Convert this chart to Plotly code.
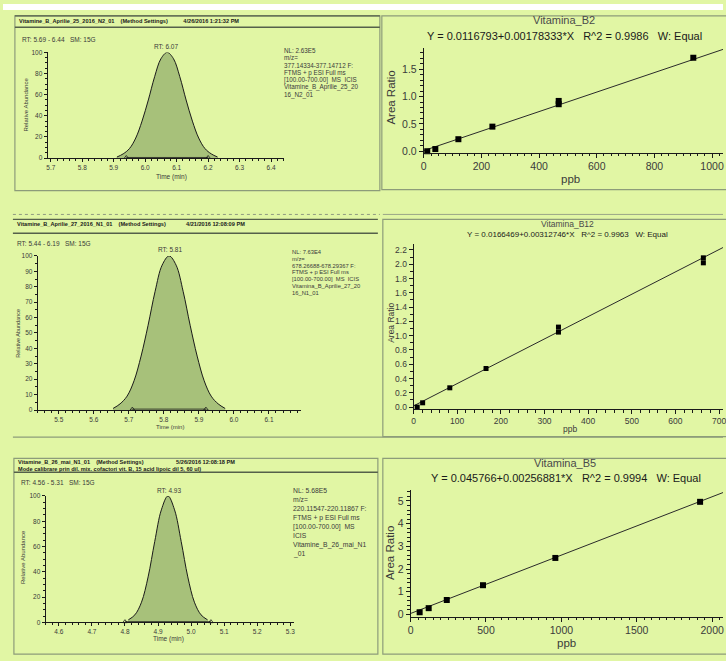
import plotly.graph_objects as go

W, H = 726, 661
FONT = "Liberation Sans, Arial, sans-serif"
BG = "#e1f6a4"
PEAK_FILL = "#a7c17a"
EDGE = "#8d9c7a"
INK = "#1a1a1a"
GREY = "#3a3a3a"

# ---------------- chromatogram data (time, min / relative abundance, %) ----------------
b2_time = [5.91, 5.93, 5.95, 5.97, 5.99, 6.01, 6.03, 6.05, 6.07, 6.09, 6.11, 6.13, 6.15, 6.17, 6.19, 6.21, 6.23]
b2_abund = [1, 4, 9, 19, 35, 55, 77, 94, 100, 94, 77, 55, 35, 19, 9, 4, 1]
b2_integ = [5.94, 6.20]

b12_time = [5.655, 5.675, 5.695, 5.715, 5.735, 5.755, 5.775, 5.795, 5.815, 5.835, 5.855, 5.875, 5.895, 5.915,
            5.935, 5.955, 5.975]
b12_abund = [1, 4, 9, 19, 35, 55, 77, 94, 100, 94, 77, 55, 35, 19, 9, 4, 1]
b12_integ = [5.71, 5.92]

b5_time = [4.81, 4.83, 4.85, 4.87, 4.89, 4.91, 4.93, 4.95, 4.97, 4.99, 5.01, 5.03, 5.05]
b5_abund = [2, 6, 16, 36, 64, 89, 100, 89, 64, 36, 16, 6, 2]
b5_integ = [4.80, 5.06]

# ---------------- calibration data (ppb / area ratio) ----------------
cal_b2_ppb = [12, 40, 120, 238, 468, 468, 935]
cal_b2_ratio = [0.0, 0.04, 0.22, 0.45, 0.86, 0.92, 1.71]
fit_b2_ppb = [0, 1038]
fit_b2_ratio = [0.0117, 1.863]

cal_b12_ppb = [8.3, 20.75, 83, 166, 332, 332, 664, 664]
cal_b12_ratio = [0.0, 0.06, 0.27, 0.54, 1.05, 1.12, 2.02, 2.09]
fit_b12_ppb = [0, 709]
fit_b12_ratio = [0.0166, 2.234]

cal_b5_ppb = [60, 120, 240, 480, 960, 1920]
cal_b5_ratio = [0.10, 0.28, 0.64, 1.29, 2.49, 4.96]
fit_b5_ppb = [0, 2072]
fit_b5_ratio = [0.0458, 5.368]

# ---------------- texts ----------------
headers = [
    "Vitamine_B_Aprilie_25_2016_N2_01    (Method Settings)          4/26/2016 1:21:32 PM",
    "Vitamine_B_Aprilie_27_2016_N1_01    (Method Settings)             4/21/2016 12:08:09 PM",
    "Vitamine_B_26_mai_N1_01    (Method Settings)                     5/26/2016 12:08:18 PM",
]
header3b = "Mode calibrare prin dil. mix. cofactori vit. B, 15 acid lipoic dil 5, 60 ul)"
rt_ranges = ["RT: 5.69 - 6.44   SM: 15G", "RT: 5.44 - 6.19   SM: 15G", "RT: 4.56 - 5.31   SM: 15G"]
rt_peaks = ["RT: 6.07", "RT: 5.81", "RT: 4.93"]
nl_blocks = [
    ["NL: 2.63E5", "m/z=", "377.14334-377.14712 F:", "FTMS + p ESI Full ms", "[100.00-700.00]  MS  ICIS",
     "Vitamine_B_Aprilie_25_20", "16_N2_01"],
    ["NL: 7.63E4", "m/z=", "678.26688-678.29367 F:", "FTMS + p ESI Full ms", "[100.00-700.00]  MS  ICIS",
     "Vitamina_B_Aprilie_27_20", "16_N1_01"],
    ["NL: 5.68E5", "m/z=", "220.11547-220.11867 F:", "FTMS + p ESI Full ms", "[100.00-700.00]  MS", "ICIS",
     "Vitamine_B_26_mai_N1", "_01"],
]
cal_titles = ["Vitamina_B2", "Vitamina_B12", "Vitamina_B5"]
cal_eqs = [
    "Y = 0.0116793+0.00178333*X   R^2 = 0.9986   W: Equal",
    "Y = 0.0166469+0.00312746*X   R^2 = 0.9963   W: Equal",
    "Y = 0.045766+0.00256881*X   R^2 = 0.9994   W: Equal",
]


def fx(p):
    return p / W


def fy(p):
    return 1 - p / H


def dom_x(p0, p1):
    return [fx(p0), fx(p1)]


def dom_y(ptop, pbot):
    return [fy(pbot), fy(ptop)]


fig = go.Figure()
layout_axes = {}


def axis(domain, rng, anchor, dtick, mdtick, size, fmt=None, tick0=0, ticklen=3):
    d = dict(domain=domain, range=rng, anchor=anchor, showline=True, linecolor=INK, linewidth=1,
             ticks="outside", ticklen=ticklen, tickwidth=1, tickcolor=INK, showgrid=False, zeroline=False,
             tick0=tick0, dtick=dtick, tickfont=dict(size=size, color=GREY, family=FONT),
             ticklabeloverflow="allow",
             minor=dict(ticks="outside", ticklen=max(1.5, ticklen - 1.5), tickcolor=INK, dtick=mdtick, showgrid=False),
             fixedrange=True)
    if fmt:
        d["tickformat"] = fmt
    return d


# ---- chromatograms ----
chroms = [
    dict(t=b2_time, a=b2_abund, integ=b2_integ, xd=(45, 283), yd=(49, 156), xr=[5.69, 6.44], ydt=20, ymd=5),
    dict(t=b12_time, a=b12_abund, integ=b12_integ, xd=(35, 300), yd=(255, 411), xr=[5.44, 6.19], ydt=10, ymd=5),
    dict(t=b5_time, a=b5_abund, integ=b5_integ, xd=(43, 293), yd=(498, 626), xr=[4.56, 5.31], ydt=20, ymd=5),
]
for i, c in enumerate(chroms, start=1):
    xa, ya = f"x{i}", f"y{i}"
    fig.add_trace(go.Scatter(x=c["t"], y=c["a"], mode="lines", line=dict(color=INK, width=1, shape="spline"),
                             fill="tozeroy", fillcolor=PEAK_FILL, xaxis=xa, yaxis=ya, showlegend=False,
                             hoverinfo="skip"))
    fig.add_trace(go.Scatter(x=c["integ"], y=[0.6, 0.6], mode="lines+markers",
                             line=dict(color=INK, width=0.8),
                             marker=dict(symbol="triangle-up-open", size=4, color=INK, line=dict(width=0.8)),
                             xaxis=xa, yaxis=ya, showlegend=False, hoverinfo="skip", cliponaxis=False))
    layout_axes[f"xaxis{i}"] = axis(dom_x(*c["xd"]), c["xr"], ya, 0.1, 0.02, 6.5, fmt=".1f")
    layout_axes[f"yaxis{i}"] = axis(dom_y(*c["yd"]), [0, 100], xa, c["ydt"], c["ymd"], 6.5)

# ---- calibration curves ----
cals = [
    dict(x=cal_b2_ppb, y=cal_b2_ratio, fx_=fit_b2_ppb, fy_=fit_b2_ratio, xd=(424.3, 726), yd=(45.0, 150.7),
         xr=[0, 1038], yr=[-0.03, 1.88], xdt=200, xmd=25, ydt=0.5, ymd=0.1, fs=10.5, fmt=".1f", ms=6),
    dict(x=cal_b12_ppb, y=cal_b12_ratio, fx_=fit_b12_ppb, fy_=fit_b12_ratio, xd=(414, 726), yd=(243.2, 410.2),
         xr=[0, 709], yr=[-0.03, 2.28], xdt=100, xmd=20, ydt=0.2, ymd=0.1, fs=8.5, fmt=".1f", ms=5),
    dict(x=cal_b5_ppb, y=cal_b5_ratio, fx_=fit_b5_ppb, fy_=fit_b5_ratio, xd=(411, 726), yd=(491.5, 620.3),
         xr=[0, 2072], yr=[-0.1, 5.5], xdt=500, xmd=50, ydt=1, ymd=0.2, fs=10.5, fmt="d", ms=6),
]
for j, c in enumerate(cals, start=4):
    xa, ya = f"x{j}", f"y{j}"
    fig.add_trace(go.Scatter(x=c["fx_"], y=c["fy_"], mode="lines", line=dict(color="#2a2a2a", width=1),
                             xaxis=xa, yaxis=ya, showlegend=False, hoverinfo="skip"))
    fig.add_trace(go.Scatter(x=c["x"], y=c["y"], mode="markers",
                             marker=dict(symbol="square", size=c["ms"], color="#000000"),
                             xaxis=xa, yaxis=ya, showlegend=False, hoverinfo="skip", cliponaxis=False))
    layout_axes[f"xaxis{j}"] = axis(dom_x(*c["xd"]), c["xr"], ya, c["xdt"], c["xmd"], c["fs"], ticklen=4)
    layout_axes[f"yaxis{j}"] = axis(dom_y(*c["yd"]), c["yr"], xa, c["ydt"], c["ymd"], c["fs"],
                                    fmt=c["fmt"], ticklen=4)

# ---------------- annotations ----------------
ann = []


def txt(x, y, s, size, xanchor="left", yanchor="middle", color=INK, angle=0, bold=False):
    ann.append(dict(x=fx(x), y=fy(y), xref="paper", yref="paper", text=(f"<b>{s}</b>" if bold else s),
                    showarrow=False, xanchor=xanchor, yanchor=yanchor, textangle=angle,
                    font=dict(size=size, color=color, family=FONT)))


# headers
txt(14, 17, headers[0], 5.6, bold=True)
txt(12, 223, headers[1], 5.6, bold=True)
txt(13, 464, headers[2], 5.6, bold=True)
txt(13, 470.5, header3b, 5.6, bold=True)

# RT ranges
txt(17, 36, rt_ranges[0], 6.5, color=GREY)
txt(12, 242, rt_ranges[1], 6.5, color=GREY)
txt(16, 484, rt_ranges[2], 6.5, color=GREY)

# RT peak labels
txt(164, 43, rt_peaks[0], 6.5, xanchor="center", color=GREY)
txt(168, 249, rt_peaks[1], 6.5, xanchor="center", color=GREY)
txt(167, 492, rt_peaks[2], 6.5, xanchor="center", color=GREY)

# NL blocks
nl_pos = [(281, 47, 7.5, 6.3), (289, 251, 6.9, 5.8), (290, 492, 9.3, 6.8)]
for block, (x0, y0, dy, fs) in zip(nl_blocks, nl_pos):
    for k, line in enumerate(block):
        txt(x0, y0 + k * dy, line, fs, color=GREY)

# chromatogram axis titles
txt(23, 102, "Relative Abundance", 6, xanchor="center", angle=-90, color=GREY)
txt(15, 333, "Relative Abundance", 5.5, xanchor="center", angle=-90, color=GREY)
txt(20, 560, "Relative Abundance", 6, xanchor="center", angle=-90, color=GREY)
txt(170, 175, "Time (min)", 6.5, xanchor="center", color=GREY)
txt(168, 428, "Time (min)", 6, xanchor="center", color=GREY)
txt(167, 643, "Time (min)", 6.5, xanchor="center", color=GREY)

# calibration titles / equations / axis titles
txt(566, 16, cal_titles[0], 11, xanchor="center", color="#4a4a4a")
txt(566, 32, cal_eqs[0], 11, xanchor="center")
txt(569, 223, cal_titles[1], 8.5, xanchor="center", color="#4a4a4a")
txt(569, 233, cal_eqs[1], 8, xanchor="center")
txt(567, 465, cal_titles[2], 11, xanchor="center", color="#4a4a4a")
txt(568, 480, cal_eqs[2], 11, xanchor="center")

txt(391, 95, "Area Ratio", 11.5, xanchor="center", angle=-90, color=GREY)
txt(391, 323, "Area Ratio", 8.5, xanchor="center", angle=-90, color=GREY)
txt(390, 556, "Area Ratio", 11.5, xanchor="center", angle=-90, color=GREY)
txt(572, 177, "ppb", 11.5, xanchor="center", color=GREY)
txt(572, 430, "ppb", 8.5, xanchor="center", color=GREY)
txt(568, 647, "ppb", 11.5, xanchor="center", color=GREY)

# ---------------- panel frames ----------------
shapes = []


def line(x0, y0, x1, y1, w=1.2, color=EDGE, dash=None):
    d = dict(type="line", xref="paper", yref="paper", x0=fx(x0), y0=fy(y0), x1=fx(x1), y1=fy(y1),
             line=dict(color=color, width=w), layer="below")
    if dash:
        d["line"]["dash"] = dash
    shapes.append(d)


def rect(x0, y0, x1, y1, w=1.2, color=EDGE, fill=None):
    shapes.append(dict(type="rect", xref="paper", yref="paper", x0=fx(x0), y0=fy(y0), x1=fx(x1), y1=fy(y1),
                       line=dict(color=color, width=w), fillcolor=fill if fill else "rgba(0,0,0,0)",
                       layer="below"))


# white strip at top
rect(0, 0, W, 6, w=0, color="rgba(0,0,0,0)", fill="#ffffff")
# top row
rect(12, 12, 380, 189)
line(12, 23.5, 380, 23.5, w=1.4, color="#55604a")
line(12, 12, 380, 12, w=1.4, color="#55604a")
rect(382, 12, 730, 188)
# middle row
line(10, 213, 380, 213, w=1, color="#8f9a80", dash="dot")
line(383, 213, 726, 213, w=1, color="#9aa688")
line(10, 218, 378, 218, w=1.4, color="#55604a")
line(10, 232, 378, 232, w=1.4, color="#55604a")
rect(383, 218, 730, 438)
line(10, 438.5, W, 438.5, w=1.2)
# bottom row
rect(11, 460, 378, 658)
line(11, 474, 378, 474, w=1.4, color="#55604a")
rect(383, 460, 730, 658)

fig.update_layout(width=W, height=H, margin=dict(l=0, r=0, t=0, b=0), paper_bgcolor=BG, plot_bgcolor="rgba(0,0,0,0)",
                  showlegend=False, annotations=ann, shapes=shapes, font=dict(family=FONT), **layout_axes)

fig.write_html("out.html", config={"displayModeBar": False},
               post_script="document.body.style.margin='0';document.body.style.overflow='hidden';")
